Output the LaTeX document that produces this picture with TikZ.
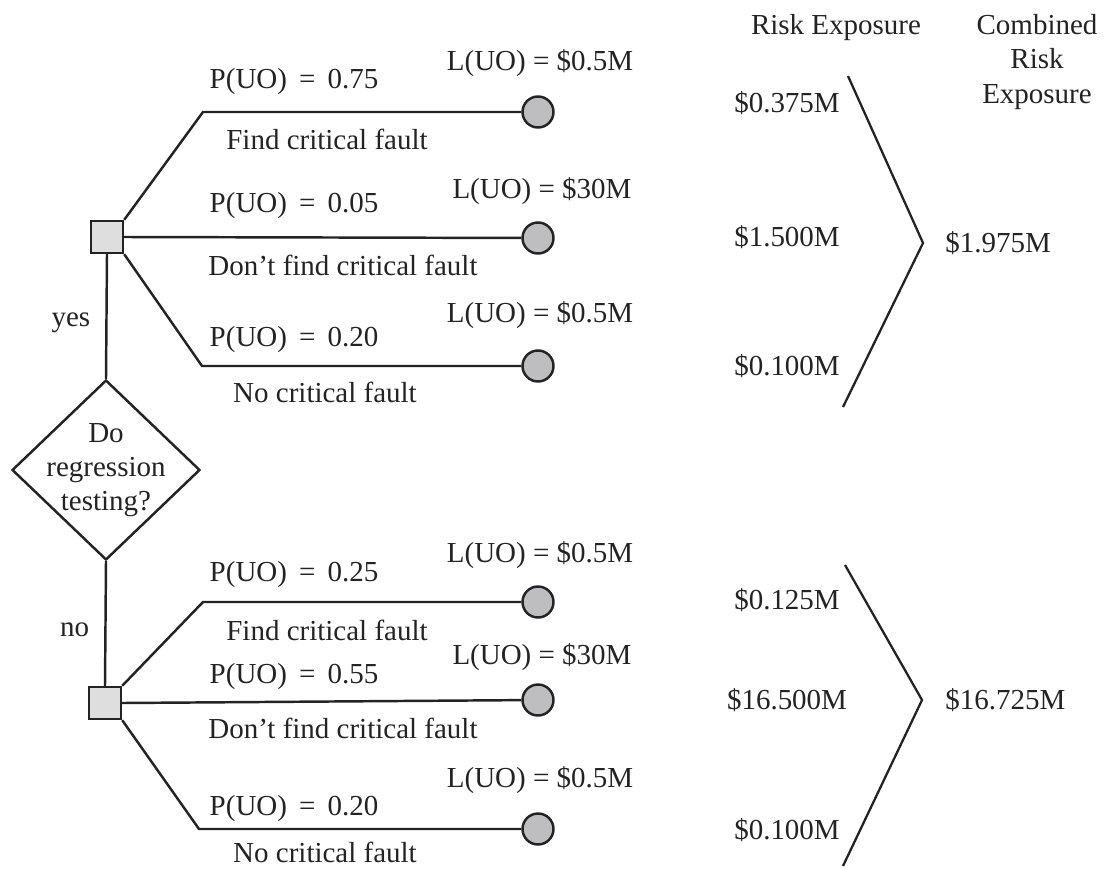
\documentclass[tikz,border=0pt]{standalone}
\usepackage{fontspec}
\setmainfont{Liberation Serif}
\usetikzlibrary{shapes.geometric}
\definecolor{ink}{RGB}{35,35,35}
\definecolor{boxgray}{RGB}{222,222,222}
\definecolor{dotgray}{RGB}{190,190,192}
\tikzset{
  branch/.style={line width=1.4pt,ink},
  bracket/.style={line width=1.3pt,ink},
  txt/.style={font=\fontsize{16.5}{19.5}\selectfont,text=ink,inner sep=0pt,align=center},
  choice/.style={draw=ink,line width=1.4pt,fill=boxgray,minimum size=0.64cm,inner sep=0pt},
  askbox/.style={diamond,draw=ink,line width=1.4pt,fill=white,minimum width=3.76cm,
    minimum height=3.6cm,inner sep=0pt},
  outcome/.style={circle,draw=ink,line width=1.4pt,fill=dotgray,minimum size=0.62cm,inner sep=0pt}
}

\begin{document}
\begin{tikzpicture}[x=0.02cm,y=-0.02cm]
  \useasboundingbox (0,0) rectangle (1104,868);
  % decision nodes
  \node[askbox] (ask) at (106,470) {};
  \node[txt] at (ask.center) {Do\\regression\\testing?};
  \node[choice] (dyes) at (107,237) {};
  \node[choice] (dno) at (105,703) {};
  \draw[branch] (ask.north) -- (dyes.south) node[pos=0.45,left=0.3cm,txt]{yes};
  \draw[branch] (ask.south) -- (dno.north) node[pos=0.55,left=0.3cm,txt]{no};

  % outcomes, yes side
  \node[outcome] (oy1) at (538,112) {};
  \node[outcome] (oy2) at (538,238) {};
  \node[outcome] (oy3) at (538,366) {};
  \coordinate (ky1) at (203,112);
  \coordinate (ky3) at (202,366);
  \draw[branch] (dyes.north east) -- (ky1) -- (oy1);
  \draw[branch] (dyes.east) -- (oy2);
  \draw[branch] (dyes.south east) -- (ky3) -- (oy3);
  \node[txt] at (294,82) {P(UO) \,=\, 0.75};
  \node[txt] at (327,139) {Find critical fault};
  \node[txt] at (540,63) {L(UO) = \$0.5M};
  \node[txt] at (294,206) {P(UO) \,=\, 0.05};
  \node[txt] at (343,265) {Don’t find critical fault};
  \node[txt] at (542,191) {L(UO) = \$30M};
  \node[txt] at (294,340) {P(UO) \,=\, 0.20};
  \node[txt] at (325,392) {No critical fault};
  \node[txt] at (540,315) {L(UO) = \$0.5M};

  % outcomes, no side
  \node[outcome] (on1) at (538,602) {};
  \node[outcome] (on2) at (538,700) {};
  \node[outcome] (on3) at (538,829) {};
  \coordinate (kn1) at (203,602);
  \coordinate (kn3) at (199,829);
  \draw[branch] (dno.north east) -- (kn1) -- (on1);
  \draw[branch] (dno.east) -- (on2);
  \draw[branch] (dno.south east) -- (kn3) -- (on3);
  \node[txt] at (294,575) {P(UO) \,=\, 0.25};
  \node[txt] at (327,630) {Find critical fault};
  \node[txt] at (540,555) {L(UO) = \$0.5M};
  \node[txt] at (294,677) {P(UO) \,=\, 0.55};
  \node[txt] at (343,728) {Don’t find critical fault};
  \node[txt] at (542,657) {L(UO) = \$30M};
  \node[txt] at (294,809) {P(UO) \,=\, 0.20};
  \node[txt] at (325,852) {No critical fault};
  \node[txt] at (540,780) {L(UO) = \$0.5M};

  % risk exposure columns
  \node[txt] at (836,28) {Risk Exposure};
  \node[txt] at (1037,62) {Combined\\Risk\\Exposure};
  \node[txt] at (787,103) {\$0.375M};
  \node[txt] at (787,237) {\$1.500M};
  \node[txt] at (787,366) {\$0.100M};
  \node[txt] at (787,600) {\$0.125M};
  \node[txt] at (787,700) {\$16.500M};
  \node[txt] at (787,830) {\$0.100M};
  \node[txt,anchor=west] at (945,243) {\$1.975M};
  \node[txt,anchor=west] at (945,700) {\$16.725M};
  \draw[bracket] (848,76) -- (923,243) -- (843,407);
  \draw[bracket] (845,565) -- (922,700) -- (843,866);
\end{tikzpicture}
\end{document}
